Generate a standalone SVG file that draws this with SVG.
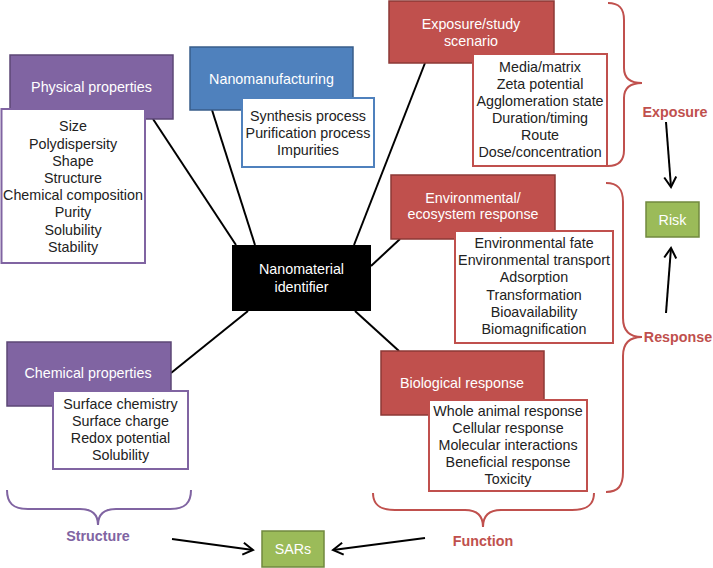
<svg xmlns="http://www.w3.org/2000/svg" width="713" height="568" viewBox="0 0 713 568">
<defs>
<style>
text{font-family:"Liberation Sans",Arial,sans-serif;font-size:14.3px;text-anchor:middle}
.hdr-p{fill:#8064a2;stroke:#5c4776;stroke-width:1.5}
.hdr-b{fill:#4f81bd;stroke:#385d8a;stroke-width:1.5}
.hdr-r{fill:#c0504d;stroke:#8c3836;stroke-width:1.5}
.hdr-g{fill:#9bbb59;stroke:#71893f;stroke-width:1.5}
.det-p{fill:#fff;stroke:#8064a2;stroke-width:2}
.det-b{fill:#fff;stroke:#4f81bd;stroke-width:2}
.det-r{fill:#fff;stroke:#c0504d;stroke-width:2}
.wt{fill:#fff}
.dt{fill:#222}
.lbl-p{fill:#8064a2;font-weight:bold}
.lbl-r{fill:#c0504d;font-weight:bold}
.conn{stroke:#000;stroke-width:2;fill:none}
.arr{stroke:#000;stroke-width:2;fill:none;marker-end:url(#head)}
.brace-p{stroke:#8064a2;stroke-width:2;fill:none}
.brace-r{stroke:#c0504d;stroke-width:2;fill:none}
</style>
<marker id="head" markerUnits="userSpaceOnUse" markerWidth="14" markerHeight="16" viewBox="0 0 14 16" refX="12" refY="8" orient="auto">
<path d="M2,2 L12,8 L2,14" fill="none" stroke="#000" stroke-width="2"/>
</marker>
</defs>

<g id="connectors">
<line class="conn" x1="153" y1="119" x2="236" y2="245"/>
<line class="conn" x1="212" y1="110" x2="255" y2="245"/>
<line class="conn" x1="425" y1="63" x2="354" y2="245"/>
<line class="conn" x1="400" y1="239" x2="371" y2="266"/>
<line class="conn" x1="355" y1="311" x2="399" y2="351"/>
<line class="conn" x1="248" y1="311" x2="171" y2="373"/>
<line class="arr" x1="666" y1="122" x2="671" y2="187"/>
<line class="arr" x1="666" y1="313" x2="671" y2="248"/>
<line class="arr" x1="172" y1="539" x2="253" y2="550"/>
<line class="arr" x1="425" y1="538" x2="333" y2="550"/>
</g>

<g id="braces">
<path class="brace-r" d="M608,3 C619,3 624,8 624,20 L624,68 C624,78 630,83 642,83 C630,83 624,88 624,98 L624,150 C624,161 619,166 608,166"/>
<path class="brace-r" d="M606,183 C618,183 623,189 623,202 L623,318 C623,330 629,337 642,337 C629,337 623,344 623,356 L623,472 C623,486 618,492 606,492"/>
<path class="brace-p" d="M7,490 C7,503 13,509 28,509 L80,509 C92,509 98,514 98,525 C98,514 104,509 116,509 L170,509 C185,509 191,503 191,490"/>
<path class="brace-r" d="M373,493 C373,505 380,510 395,510 L465,510 C477,510 483,515 483,527 C483,515 489,510 501,510 L572,510 C587,510 594,505 594,493"/>
</g>

<g id="physical">
<rect class="hdr-p" x="10" y="55" width="163" height="64"/>
<text class="wt" x="91.5" y="92">Physical properties</text>
<rect class="det-p" x="1.5" y="109" width="143.5" height="154"/>
<text class="dt" x="73" y="131">Size</text>
<text class="dt" x="73" y="148.5">Polydispersity</text>
<text class="dt" x="73" y="165.5">Shape</text>
<text class="dt" x="73" y="182.5">Structure</text>
<text class="dt" x="73" y="200">Chemical composition</text>
<text class="dt" x="73" y="217">Purity</text>
<text class="dt" x="73" y="234.5">Solubility</text>
<text class="dt" x="73" y="251.5">Stability</text>
</g>

<g id="nanomanufacturing">
<rect class="hdr-b" x="190" y="47" width="163" height="63"/>
<text class="wt" x="271.5" y="84">Nanomanufacturing</text>
<rect class="det-b" x="242" y="98" width="132" height="69"/>
<text class="dt" x="308" y="121">Synthesis process</text>
<text class="dt" x="308" y="138">Purification process</text>
<text class="dt" x="308" y="154.5">Impurities</text>
</g>

<g id="exposure">
<rect class="hdr-r" x="389" y="1" width="165" height="62"/>
<text class="wt" x="471" y="29">Exposure/study</text>
<text class="wt" x="471" y="46">scenario</text>
<rect class="det-r" x="473" y="54" width="134" height="112"/>
<text class="dt" x="540" y="72">Media/matrix</text>
<text class="dt" x="540" y="89">Zeta potential</text>
<text class="dt" x="540" y="106">Agglomeration state</text>
<text class="dt" x="540" y="123">Duration/timing</text>
<text class="dt" x="540" y="140">Route</text>
<text class="dt" x="540" y="157">Dose/concentration</text>
</g>

<g id="environmental">
<rect class="hdr-r" x="391" y="175" width="164" height="64"/>
<text class="wt" x="473" y="203">Environmental/</text>
<text class="wt" x="473" y="219">ecosystem response</text>
<rect class="det-r" x="455" y="231" width="158" height="112"/>
<text class="dt" x="534" y="248">Environmental fate</text>
<text class="dt" x="534" y="265">Environmental transport</text>
<text class="dt" x="534" y="282">Adsorption</text>
<text class="dt" x="534" y="300">Transformation</text>
<text class="dt" x="534" y="317">Bioavailability</text>
<text class="dt" x="534" y="334">Biomagnification</text>
</g>

<g id="biological">
<rect class="hdr-r" x="381" y="351" width="163" height="64"/>
<text class="wt" x="462" y="388">Biological response</text>
<rect class="det-r" x="429" y="400" width="158" height="91"/>
<text class="dt" x="508" y="416">Whole animal response</text>
<text class="dt" x="508" y="433">Cellular response</text>
<text class="dt" x="508" y="450">Molecular interactions</text>
<text class="dt" x="508" y="467">Beneficial response</text>
<text class="dt" x="508" y="484">Toxicity</text>
</g>

<g id="chemical">
<rect class="hdr-p" x="7" y="342" width="164" height="64"/>
<text class="wt" x="88" y="378">Chemical properties</text>
<rect class="det-p" x="53" y="391" width="135" height="78"/>
<text class="dt" x="120.5" y="409">Surface chemistry</text>
<text class="dt" x="120.5" y="426">Surface charge</text>
<text class="dt" x="120.5" y="443">Redox potential</text>
<text class="dt" x="120.5" y="460">Solubility</text>
</g>

<g id="identifier">
<rect x="232" y="245" width="139" height="66" fill="#000"/>
<text class="wt" x="301.5" y="274">Nanomaterial</text>
<text class="wt" x="301.5" y="292">identifier</text>
</g>

<g id="risk">
<rect class="hdr-g" x="646" y="202" width="53" height="35"/>
<text class="wt" x="672.5" y="225">Risk</text>
</g>

<g id="sars">
<rect class="hdr-g" x="262" y="531" width="62" height="36"/>
<text class="wt" x="293" y="554">SARs</text>
</g>

<g id="label-structure"><text class="lbl-p" x="98" y="541">Structure</text></g>
<g id="label-function"><text class="lbl-r" x="483" y="546">Function</text></g>
<g id="label-exposure"><text class="lbl-r" x="675" y="117">Exposure</text></g>
<g id="label-response"><text class="lbl-r" x="678" y="342">Response</text></g>
</svg>
